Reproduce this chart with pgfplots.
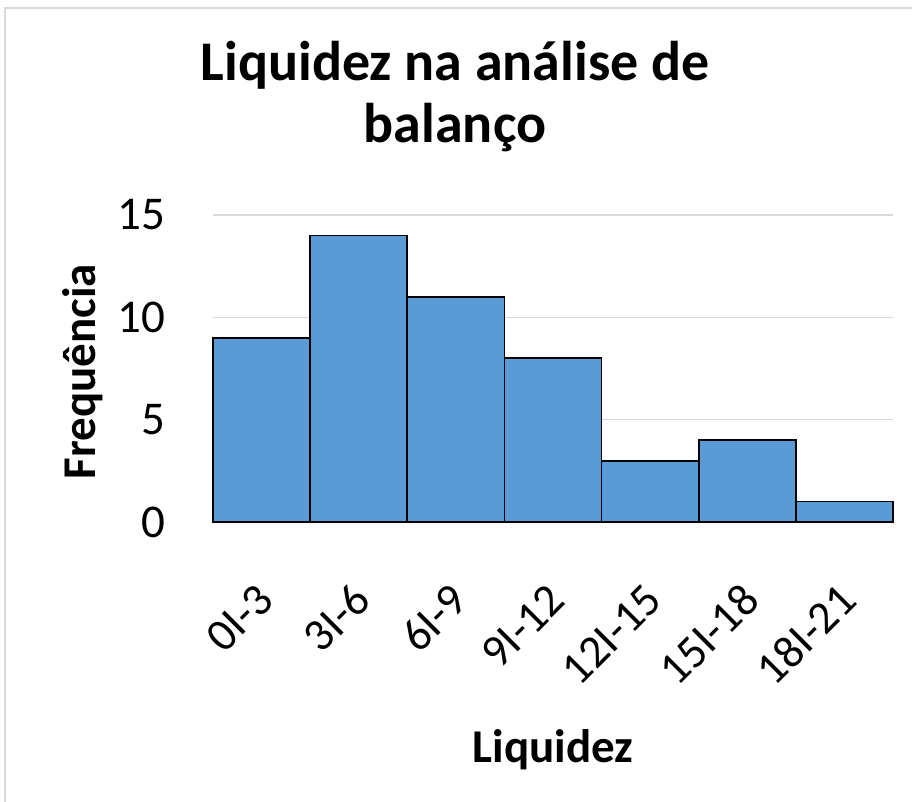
\documentclass[border=0pt]{standalone}
\usepackage{pgfplots}
\pgfplotsset{compat=1.18}
\usepackage{fontspec}
\setmainfont{Carlito}
\definecolor{barblue}{HTML}{5B9BD5}
\definecolor{gridgray}{HTML}{D9D9D9}
\begin{document}
\begin{tikzpicture}[x=1pt,y=1pt]
\path[use as bounding box] (0,0) rectangle (912,801);
\draw[gridgray, line width=2pt] (5,-20) -- (5,793) -- (930,793);
\begin{axis}[
  at={(213pt,279pt)}, anchor=south west,
  scale only axis, width=680pt, height=307pt,
  ymin=0, ymax=15, xmin=-0.5, xmax=6.5,
  ytick={0,5,10,15},
  xtick={0,...,6},
  xticklabels={0I-3,3I-6,6I-9,9I-12,12I-15,15I-18,18I-21},
  axis line style={draw=none},
  ymajorgrids, grid style={gridgray, line width=1.5pt},
  major tick length=0pt,
  /pgf/number format/assume math mode=true,
  yticklabel style={font=\fontsize{47}{47}\selectfont, anchor=east, xshift=-44pt},
  xticklabel style={font=\fontsize{46}{46}\selectfont, xshift=6pt, yshift=-68pt, rotate=45, anchor=east},
  xlabel={Liquidez},
  ylabel={Frequência},
  every axis x label/.style={at={(axis description cs:0.5,-0.7818)}, anchor=base, font=\bfseries\fontsize{47}{47}\selectfont},
  every axis y label/.style={at={(axis description cs:-0.1735,0.49)}, rotate=90, anchor=base, font=\bfseries\fontsize{47}{47}\selectfont},
  title={Liquidez na análise de\\balanço},
  every axis title/.style={at={(axis description cs:0.3559,1)}, anchor=south, yshift=59.5pt, font=\bfseries\fontsize{56}{62}\selectfont, align=center},
  clip=false,
]
\draw[gridgray, line width=1.5pt] (axis cs:-0.5,0) -- (axis cs:6.5,0);
\addplot[ybar, bar width=1, fill=barblue, draw=black, line width=1.8pt] coordinates {(0,9) (1,14) (2,11) (3,8) (4,3) (5,4) (6,1)};
\end{axis}
\end{tikzpicture}
\end{document}
